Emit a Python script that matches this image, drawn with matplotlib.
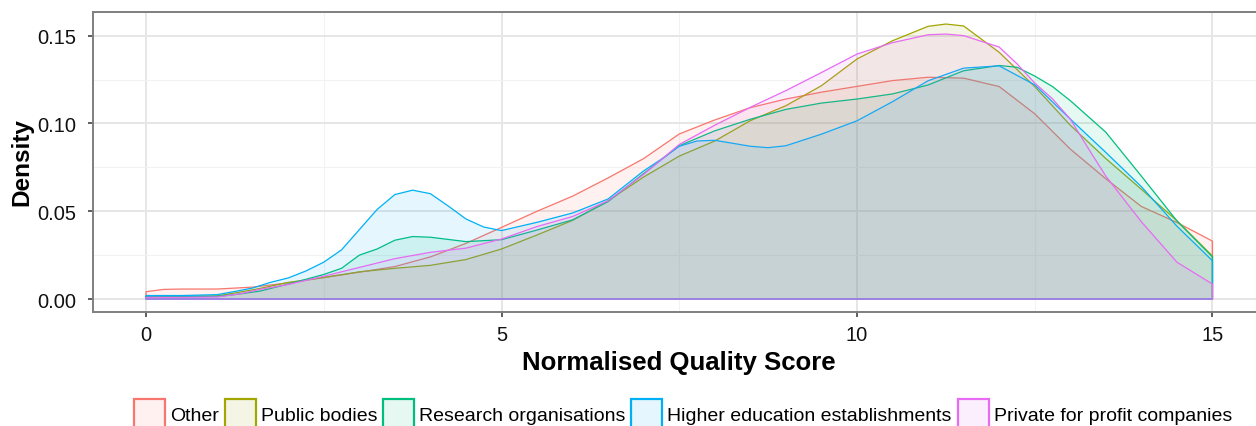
import numpy as np
import matplotlib
matplotlib.use('Agg')
import matplotlib.pyplot as plt
from matplotlib.ticker import MultipleLocator, FormatStrFormatter

plt.rcParams['font.family'] = ['Liberation Sans', 'DejaVu Sans']

# densities (x = normalised quality score)
other_x = [0, 0.25, 0.5, 1.0, 1.5, 2.0, 2.5, 3.0, 3.5, 4.0, 4.5, 5.0, 5.5, 6.0, 6.5, 7.0, 7.5,
           8.0, 8.5, 9.0, 9.5, 10.0, 10.5, 11.0, 11.5, 12.0, 12.5, 13.0, 13.5, 14.0, 14.5, 15.0]
other_y = [0.0042, 0.0055, 0.0057, 0.0057, 0.0068, 0.0092, 0.0122, 0.0153, 0.0185, 0.024, 0.0317,
           0.0408, 0.050, 0.0586, 0.069, 0.080, 0.094, 0.102, 0.109, 0.1139, 0.1178, 0.1211, 0.1244,
           0.1263, 0.1258, 0.121, 0.1055, 0.0854, 0.0685, 0.0527, 0.0436, 0.033]

public_x = [0, 0.5, 1.0, 1.3, 1.6, 2.0, 2.5, 3.0, 3.5, 4.0, 4.5, 5.0, 5.5, 6.0, 6.5, 7.0, 7.5, 8.0,
            8.5, 9.0, 9.5, 10.0, 10.5, 11.0, 11.25, 11.5, 12.0, 12.5, 13.0, 13.5, 14.0, 14.5, 15.0]
public_y = [0.0015, 0.0015, 0.0018, 0.0038, 0.006, 0.0095, 0.0123, 0.0155, 0.0175, 0.0192, 0.0225,
            0.0285, 0.0365, 0.0448, 0.056, 0.0695, 0.0814, 0.090, 0.1016, 0.1101, 0.1215, 0.1367,
            0.1471, 0.1553, 0.1566, 0.1555, 0.1405, 0.121, 0.099, 0.080, 0.0625, 0.0446, 0.0245]

research_x = [0, 0.5, 1.0, 1.3, 1.6, 2.0, 2.5, 2.75, 3.0, 3.25, 3.5, 3.75, 4.0, 4.5, 5.0, 5.5, 6.0,
              6.5, 7.0, 7.5, 8.0, 8.5, 9.0, 9.5, 10.0, 10.5, 11.0, 11.5, 12.0, 12.25, 12.5, 12.75,
              13.0, 13.5, 14.0, 14.5, 15.0]
research_y = [0.0015, 0.0015, 0.0015, 0.0028, 0.0045, 0.0085, 0.014, 0.0175, 0.025, 0.0285, 0.0335,
              0.0356, 0.0352, 0.0327, 0.0338, 0.0393, 0.0451, 0.0555, 0.0715, 0.0873, 0.0958, 0.1024,
              0.108, 0.1116, 0.1139, 0.1168, 0.1219, 0.130, 0.133, 0.132, 0.127, 0.121, 0.113, 0.095,
              0.070, 0.0445, 0.024]

higher_x = [0, 0.5, 1.0, 1.3, 1.5, 1.75, 2.0, 2.25, 2.5, 2.75, 3.0, 3.25, 3.5, 3.75, 4.0, 4.25, 4.5,
            4.75, 5.0, 5.5, 6.0, 6.5, 7.0, 7.25, 7.5, 7.75, 8.0, 8.5, 8.75, 9.0, 9.5, 10.0, 10.5,
            11.0, 11.5, 12.0, 12.5, 13.0, 13.5, 14.0, 14.5, 15.0]
higher_y = [0.002, 0.002, 0.0025, 0.0047, 0.0063, 0.0095, 0.012, 0.016, 0.021, 0.028, 0.0395, 0.051,
            0.0595, 0.062, 0.060, 0.053, 0.0456, 0.041, 0.039, 0.0437, 0.049, 0.057, 0.073, 0.0797,
            0.087, 0.090, 0.0904, 0.087, 0.0862, 0.0873, 0.0939, 0.1015, 0.1124, 0.1243, 0.1315,
            0.1328, 0.122, 0.1025, 0.0835, 0.064, 0.0415, 0.0218]

private_x = [0, 0.5, 1.0, 1.3, 1.6, 2.0, 2.5, 3.0, 3.5, 4.0, 4.5, 5.0, 5.5, 6.0, 6.5, 7.0, 7.5, 8.0,
             8.5, 9.0, 9.5, 10.0, 10.5, 11.0, 11.25, 11.5, 12.0, 12.25, 12.5, 12.75, 13.0, 13.25,
             13.5, 14.0, 14.5, 15.0]
private_y = [0.001, 0.001, 0.0012, 0.0028, 0.0055, 0.0083, 0.013, 0.018, 0.023, 0.0266, 0.029,
             0.0342, 0.0413, 0.047, 0.056, 0.071, 0.088, 0.099, 0.1092, 0.1187, 0.129, 0.1395,
             0.146, 0.1505, 0.1509, 0.150, 0.1435, 0.134, 0.123, 0.114, 0.1025, 0.086, 0.070,
             0.044, 0.021, 0.0085]

labels = ['Other', 'Public bodies', 'Research organisations',
          'Higher education establishments', 'Private for profit companies']
colors = ['#F8766D', '#A3A500', '#00BF7D', '#00B0F6', '#E76BF3']
series = [(other_x, other_y), (public_x, public_y), (research_x, research_y),
          (higher_x, higher_y), (private_x, private_y)]

fig = plt.figure(figsize=(12.56, 4.27), dpi=100)
ax = fig.add_axes([0.0738, 0.2677, 0.934, 0.7012])

for (xs, ys), lab, col in zip(series, labels, colors):
    # closed outline like geom_density: baseline, curve, vertical ends
    px = [xs[0]] + list(xs) + [xs[-1]]
    py = [0] + list(ys) + [0]
    rgb = matplotlib.colors.to_rgb(col)
    ax.fill(px, py, facecolor=rgb + (0.1,), edgecolor=col, lw=0.9, label=lab)

ax.set_xlim(-0.75, 15.75)
ax.set_ylim(-0.0072, 0.1633)
ax.xaxis.set_major_locator(MultipleLocator(5))
ax.xaxis.set_minor_locator(MultipleLocator(2.5))
ax.yaxis.set_major_locator(MultipleLocator(0.05))
ax.yaxis.set_minor_locator(MultipleLocator(0.025))
ax.yaxis.set_major_formatter(FormatStrFormatter('%.2f'))

ax.set_axisbelow(True)
ax.grid(which='major', color='#E6E6E6', lw=1.4)
ax.grid(which='minor', color='#F2F2F2', lw=0.8)
for s in ax.spines.values():
    s.set_color('#7F7F7F')
    s.set_linewidth(1.4)

ax.tick_params(which='major', length=3.5, width=1.1, color='#333333', labelsize=14.5,
               labelcolor='#111111')
ax.tick_params(axis='x', pad=6)
ax.tick_params(axis='y', pad=8)
ax.tick_params(which='minor', length=0)

ax.set_xlabel('Normalised Quality Score', fontsize=18.5, fontweight='bold')
ax.set_ylabel('Density', fontsize=17.5, fontweight='bold')
ax.xaxis.set_label_coords(0.5, -0.168)
ax.xaxis.label.set_va('center')
ax.yaxis.set_label_coords(-0.0603, 0.503)
ax.yaxis.label.set_va('center')

leg = fig.legend(loc='upper center', bbox_to_anchor=(683 / 1256, (427 - 400) / 427), ncol=5,
                 frameon=False, fontsize=14, handlelength=1.6, handleheight=2.0,
                 handletextpad=0.25, columnspacing=0.3, borderpad=0, borderaxespad=0)
for h in leg.legend_handles:
    h.set_linewidth(1.6)

fig.savefig('out.png', dpi=100)
